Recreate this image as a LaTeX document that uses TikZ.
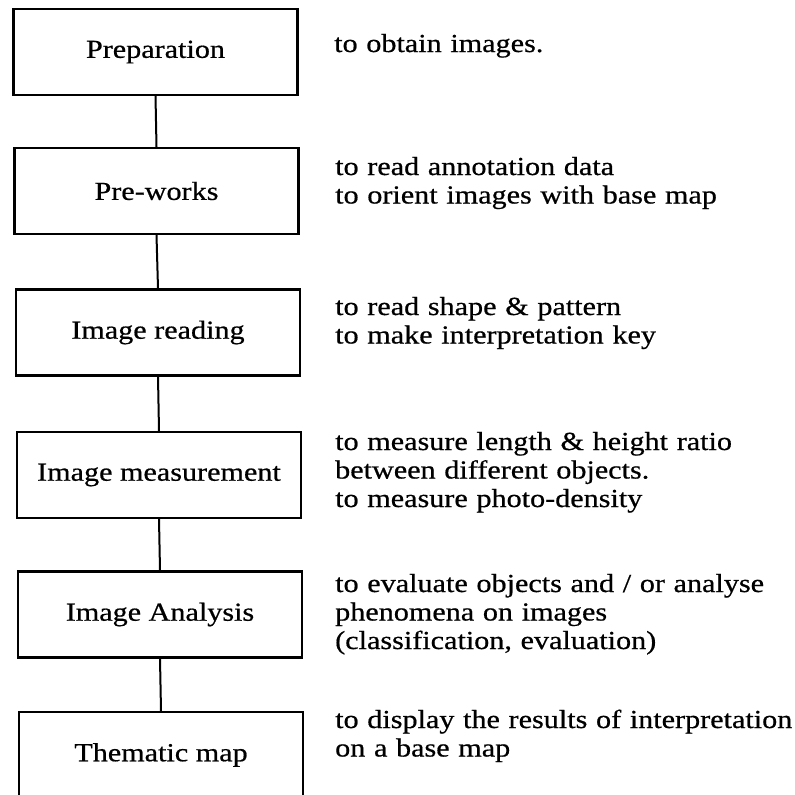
\documentclass[tikz,border=0pt]{standalone}
\usepackage{fontspec}
\setmainfont{Liberation Serif}[FakeStretch=1.16,FakeBold=0.6]
\begin{document}
\begin{tikzpicture}[x=1pt,y=-1pt,
  stage/.style={draw, line width=2.2pt, minimum width=284pt, minimum height=86pt, inner sep=0pt, font=\fontsize{26}{28.5}\selectfont},
  note/.style={anchor=base west, text width=470pt, align=left, inner sep=0pt, font=\fontsize{26}{28.5}\selectfont},
  link/.style={line width=2pt}]
\useasboundingbox (0,0) rectangle (795,795);
\clip (0,0) rectangle (795,795);
\fill[white] (0,0) rectangle (795,795);

\node[stage] (b1) at (155.5,52) {Preparation};
\node[stage] (b2) at (156.5,191) {Pre-works};
\node[stage] (b3) at (158,332.5) {Image reading};
\node[stage] (b4) at (159,475) {Image measurement};
\node[stage] (b5) at (160,614.5) {Image Analysis};
\node[stage] (b6) at (161,755) {Thematic map};

\draw[link] (b1.south) -- (b2.north);
\draw[link] (b2.south) -- (b3.north);
\draw[link] (b3.south) -- (b4.north);
\draw[link] (b4.south) -- (b5.north);
\draw[link] (b5.south) -- (b6.north);

\node[note] (n1) at (334,52) {to obtain images.};
\node[note] (n2) at (335,175) {to read annotation data\\to orient images with base map};
\node[note] (n3) at (335,315) {to read shape \& pattern\\to make interpretation key};
\node[note] (n4) at (335,450) {to measure length \& height ratio\\between different objects.\\to measure photo-density};
\node[note] (n5) at (335,592) {to evaluate objects and / or analyse\\phenomena on images\\(classification, evaluation)};
\node[note] (n6) at (335,728) {to display the results of interpretation\\on a base map};
\end{tikzpicture}
\end{document}
